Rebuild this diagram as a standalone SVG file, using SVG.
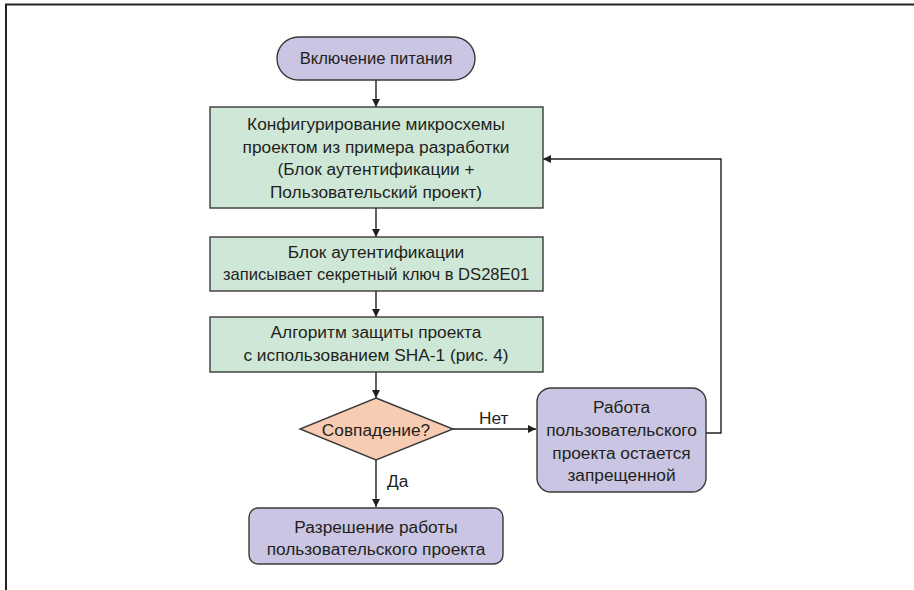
<svg xmlns="http://www.w3.org/2000/svg" width="914" height="590" viewBox="0 0 914 590">
<style>
text{font-family:"Liberation Sans",Arial,sans-serif;font-size:17.3px;fill:#231f20;text-anchor:middle;dominant-baseline:central}
.g{fill:#cfe7d6;stroke:#3a3a3a;stroke-width:1.4}
.p{fill:#c9c5e2;stroke:#3a3a3a;stroke-width:1.4}
.d{fill:#f8cbb3;stroke:#3a3a3a;stroke-width:1.4}
.c{fill:none;stroke:#231f20;stroke-width:1.4;marker-end:url(#ah)}
.lbl{text-anchor:start}
.sm{font-size:16.6px}
</style>
<defs>
<marker id="ah" viewBox="0 0 10 10" refX="10" refY="5" markerWidth="8" markerHeight="8" markerUnits="userSpaceOnUse" orient="auto">
<path d="M0,0 L10,5 L0,10 z" fill="#231f20"/>
</marker>
</defs>
<rect width="914" height="590" fill="#fff"/>
<path d="M6,590 V4.5 H914" fill="none" stroke="#222" stroke-width="2"/>
<g id="connectors">
<path class="c" d="M376,80 V107"/>
<path class="c" d="M376,208 V237"/>
<path class="c" d="M376,291 V317"/>
<path class="c" d="M376,372 V398"/>
<path class="c" d="M453,429 H536"/>
<path class="c" d="M376,460 V507"/>
<path class="c" d="M706,433 H721 V159 H543"/>
<text class="lbl" x="479" y="418">Нет</text>
<text class="lbl" x="387" y="481">Да</text>
</g>
<g id="start">
<rect class="p" x="277" y="37" width="198" height="43" rx="21.5"/>
<text class="sm" x="376" y="58.5">Включение питания</text>
</g>
<g id="config">
<rect class="g" x="210" y="107" width="333" height="101"/>
<text x="376" y="124">Конфигурирование микросхемы</text>
<text x="376" y="146.5">проектом из примера разработки</text>
<text x="376" y="169">(Блок аутентификации +</text>
<text x="376" y="191.5">Пользовательский проект)</text>
</g>
<g id="auth">
<rect class="g" x="210" y="237" width="333" height="54"/>
<text x="376" y="252">Блок аутентификации</text>
<text class="sm" x="376" y="274.5">записывает секретный ключ в DS28E01</text>
</g>
<g id="algo">
<rect class="g" x="210" y="317" width="333" height="55"/>
<text x="376" y="332">Алгоритм защиты проекта</text>
<text x="376" y="355">с использованием SHA-1 (рис. 4)</text>
</g>
<g id="match">
<polygon class="d" points="376,398 453,429 376,460 300,429"/>
<text x="376" y="429.5">Совпадение?</text>
</g>
<g id="denied">
<rect class="p" x="537" y="388" width="169" height="104" rx="14"/>
<text x="621.5" y="407">Работа</text>
<text x="621.5" y="430">пользовательского</text>
<text x="621.5" y="452.5">проекта остается</text>
<text x="621.5" y="474.5">запрещенной</text>
</g>
<g id="allowed">
<rect class="p" x="249" y="508" width="254" height="56" rx="9"/>
<text x="376" y="526.5">Разрешение работы</text>
<text x="376" y="549">пользовательского проекта</text>
</g>
</svg>
